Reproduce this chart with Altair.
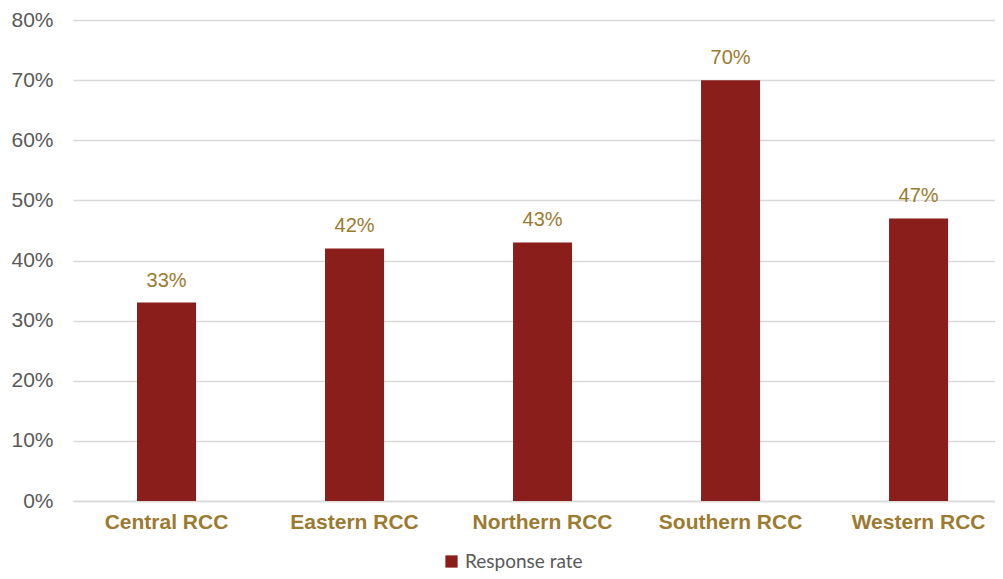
import altair as alt
import pandas as pd

regions = ["Central RCC", "Eastern RCC", "Northern RCC", "Southern RCC", "Western RCC"]
rates = [0.33, 0.42, 0.43, 0.70, 0.47]
series_name = "Response rate"

df = pd.DataFrame({"region": regions, "rate": rates, "series": [series_name] * len(regions)})

BAR = "#891E1A"
GOLD = "#9C7A30"
GRAY = "#595959"

x = alt.X("region:N", sort=regions, title=None,
          scale=alt.Scale(paddingInner=0.686, paddingOuter=0.295, align=0.577),
          axis=alt.Axis(labelAngle=0, labelFont="Liberation Sans", labelFontSize=21,
                        labelFontWeight="bold", labelColor=GOLD, labelPadding=10,
                        ticks=False, domainColor="#D9D9D9", domainWidth=1.5))

y = alt.Y("rate:Q", title=None,
          scale=alt.Scale(domain=[0, 0.8], nice=False),
          axis=alt.Axis(format=".0%", values=[i / 10 for i in range(9)],
                        labelFont="Liberation Sans", labelFontSize=21, labelColor=GRAY,
                        labelPadding=20, ticks=False, domain=False,
                        gridColor="#D9D9D9", gridWidth=1.5))

bars = alt.Chart(df).mark_bar(color=BAR).encode(
    x=x, y=y,
    color=alt.Color("series:N", scale=alt.Scale(range=[BAR]),
                    legend=alt.Legend(title=None, orient="none", legendX=369, legendY=532,
                                      symbolType="square", symbolSize=150,
                                      symbolStrokeWidth=0, labelFont="Lato",
                                      labelFontSize=19, labelColor=GRAY, labelOffset=4)),
)

labels = alt.Chart(df).mark_text(dy=-22, font="Liberation Sans", fontSize=20,
                                 color=GOLD).encode(
    x=alt.X("region:N", sort=regions),
    y="rate:Q",
    text=alt.Text("rate:Q", format=".0%"),
)

chart = (bars + labels).properties(
    width=922, height=481,
    autosize=alt.AutoSizeParams(type="none"),
    padding={"left": 65, "top": 12, "right": 0, "bottom": 70},
).configure_view(stroke=None)

chart.save("out.html", embed_options={"renderer": "svg", "actions": False})
